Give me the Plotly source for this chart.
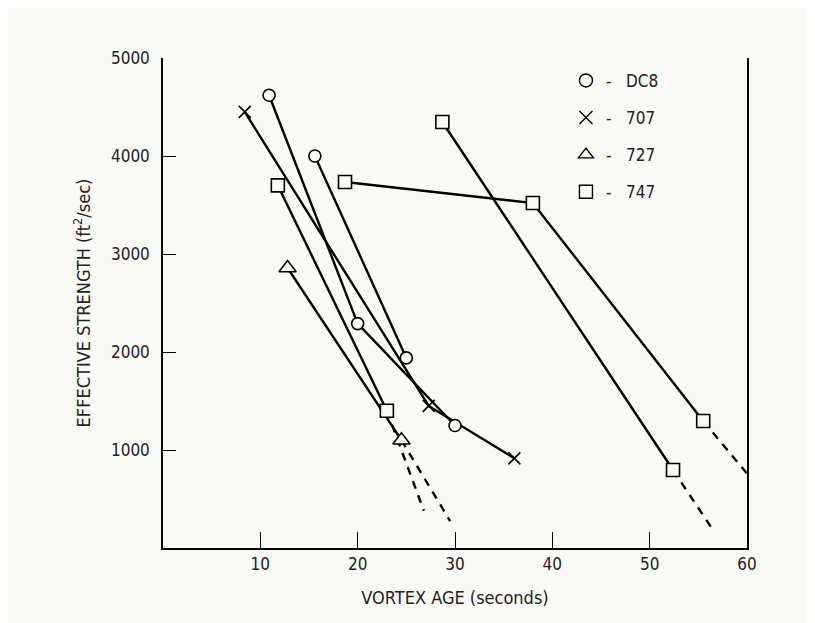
import plotly.graph_objects as go

# ---- data ----
# DC8 (circles)
dc8_a_x = [10.9, 20.0, 30.0]
dc8_a_y = [4620, 2290, 1250]
dc8_b_x = [15.6, 25.0]
dc8_b_y = [4000, 1940]
# 707 (x)
b707_x = [8.4, 27.3, 36.1]
b707_y = [4450, 1450, 915]
# 727 (triangles)
b727_x = [12.8, 24.5]
b727_y = [2857, 1100]
b727_ext_x = [24.5, 29.5]
b727_ext_y = [1100, 275]
# 747 (squares)
b747_a_x = [11.8, 23.0]
b747_a_y = [3700, 1400]
b747_a_ext_x = [23.0, 26.8]
b747_a_ext_y = [1400, 380]
b747_b_x = [18.7, 38.0, 55.5]
b747_b_y = [3735, 3520, 1296]
b747_b_ext_x = [55.5, 60.0]
b747_b_ext_y = [1296, 760]
b747_c_x = [28.7, 52.4]
b747_c_y = [4347, 796]
b747_c_ext_x = [52.4, 56.5]
b747_c_ext_y = [796, 184]

x_ticks = [10, 20, 30, 40, 50, 60]
y_ticks = [1000, 2000, 3000, 4000, 5000]
legend_names = ["DC8", "707", "727", "747"]
legend_symbols = ["circle-open", "x-thin-open", "triangle-up-open", "square-open"]

FONT = "Liberation Sans Narrow, DejaVu Sans Condensed, Arial Narrow, sans-serif"
BG = "#f9f9f6"
LW = 2.4

fig = go.Figure()

def solid(x, y, symbol, size):
    mk = dict(symbol=symbol, size=size, color=BG, line=dict(color="black", width=1.6))
    if symbol == "x-thin":
        mk = dict(symbol="x-thin", size=size, color="black", line=dict(color="black", width=1.6))
    fig.add_trace(go.Scatter(x=x, y=y, mode="lines+markers",
                             line=dict(color="black", width=LW),
                             marker=mk, showlegend=False, hoverinfo="skip"))

def dashed(x, y):
    fig.add_trace(go.Scatter(x=x, y=y, mode="lines",
                             line=dict(color="black", width=LW, dash="8px,7px"),
                             showlegend=False, hoverinfo="skip"))

# dashed extensions first (under markers)
dashed(b727_ext_x, b727_ext_y)
dashed(b747_a_ext_x, b747_a_ext_y)
dashed(b747_b_ext_x, b747_b_ext_y)
dashed(b747_c_ext_x, b747_c_ext_y)

solid(b707_x, b707_y, "x-thin", 12)
solid(dc8_a_x, dc8_a_y, "circle", 12)
solid(dc8_b_x, dc8_b_y, "circle", 12)
solid(b727_x, b727_y, "triangle-up", 15)
solid(b747_a_x, b747_a_y, "square", 13)
solid(b747_b_x, b747_b_y, "square", 13)
solid(b747_c_x, b747_c_y, "square", 13)

# legend entries
for i, (nm, sym) in enumerate(zip(legend_names, legend_symbols)):
    fig.add_trace(go.Scatter(x=[None], y=[None], mode="markers", name="-   " + nm,
                             legendgroup=nm,
                             marker=dict(symbol=sym, size=13, color="black",
                                         line=dict(color="black", width=1.4))))

# page body has an 8px margin, so the figure is 8px smaller and margins shifted
fig.update_layout(
    width=807, height=615,
    margin=dict(l=155, r=68, t=50, b=75),
    paper_bgcolor=BG, plot_bgcolor=BG,
    font=dict(family=FONT, size=17, color="#222"),
    legend=dict(x=0.69, y=0.99, xanchor="left", yanchor="top",
                bgcolor="rgba(0,0,0,0)", tracegroupgap=12,
                font=dict(family=FONT, size=17, color="#222")),
    xaxis=dict(range=[0, 60], tickvals=x_ticks, ticktext=[str(v) for v in x_ticks],
               showgrid=False, zeroline=False, showline=True, linecolor="black",
               linewidth=1.5, ticks="inside", ticklen=16, tickwidth=1.3,
               tickcolor="black", mirror=False,
               title=dict(text="VORTEX AGE (seconds)", standoff=18,
                          font=dict(family=FONT, size=18))),
    yaxis=dict(range=[0, 5000], tickvals=y_ticks, ticktext=[str(v) for v in y_ticks],
               showgrid=False, zeroline=False, showline=True, linecolor="black",
               linewidth=1.5, ticks="inside", ticklen=13, tickwidth=1.3,
               tickcolor="black", mirror=True, ticklabelstandoff=8,
               title=dict(text="EFFECTIVE STRENGTH (ft<sup>2</sup>/sec)", standoff=16,
                          font=dict(family=FONT, size=18))),
)

fig.write_html("out.html")
